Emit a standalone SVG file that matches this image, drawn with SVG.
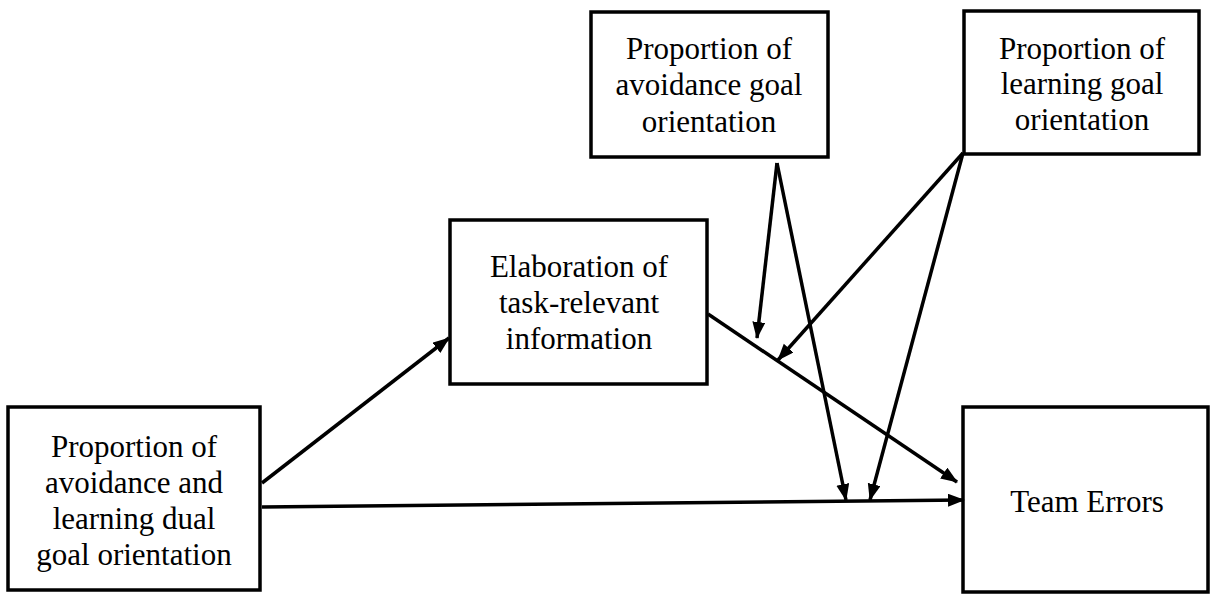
<svg xmlns="http://www.w3.org/2000/svg" width="1211" height="594" viewBox="0 0 1211 594">
<style>
.box{fill:#fff;stroke:#000;stroke-width:3.5}
.t{font-family:"Liberation Serif","Times New Roman",serif;font-size:31px;fill:#000;text-anchor:middle}
.c{stroke:#000;stroke-width:3.5;fill:none;marker-end:url(#ah)}
</style>
<defs>
<marker id="ah" markerUnits="userSpaceOnUse" markerWidth="18" markerHeight="14" refX="16" refY="6.5" orient="auto">
<path d="M0,0 L17,6.5 L0,13 z" fill="#000"/>
</marker>
</defs>
<rect width="1211" height="594" fill="#fff"/>
<g id="n1">
<rect class="box" x="8" y="407" width="252" height="183"/>
<text class="t" x="134" y="457">Proportion of</text>
<text class="t" x="134" y="493">avoidance and</text>
<text class="t" x="134" y="529">learning dual</text>
<text class="t" x="134" y="565">goal orientation</text>
</g>
<g id="n2">
<rect class="box" x="450" y="220" width="257" height="164"/>
<text class="t" x="579" y="277">Elaboration of</text>
<text class="t" x="579" y="313">task-relevant</text>
<text class="t" x="579" y="349">information</text>
</g>
<g id="n3">
<rect class="box" x="591" y="12" width="237" height="145"/>
<text class="t" x="709" y="59">Proportion of</text>
<text class="t" x="709" y="95">avoidance goal</text>
<text class="t" x="709" y="132">orientation</text>
</g>
<g id="n4">
<rect class="box" x="964" y="11" width="235" height="143"/>
<text class="t" x="1082" y="59">Proportion of</text>
<text class="t" x="1082" y="94">learning goal</text>
<text class="t" x="1082" y="130">orientation</text>
</g>
<g id="n5">
<rect class="box" x="963" y="407" width="245" height="185"/>
<text class="t" x="1087" y="512">Team Errors</text>
</g>
<g id="connectors">
<line class="c" x1="262" y1="483" x2="449" y2="338"/>
<line class="c" x1="262" y1="507" x2="964" y2="500"/>
<line class="c" x1="708" y1="314" x2="957" y2="482"/>
<line class="c" x1="777" y1="163" x2="757" y2="338"/>
<line class="c" x1="777" y1="163" x2="846" y2="500"/>
<line class="c" x1="963" y1="153" x2="778" y2="360"/>
<line class="c" x1="963" y1="153" x2="870" y2="500"/>
</g>
</svg>
